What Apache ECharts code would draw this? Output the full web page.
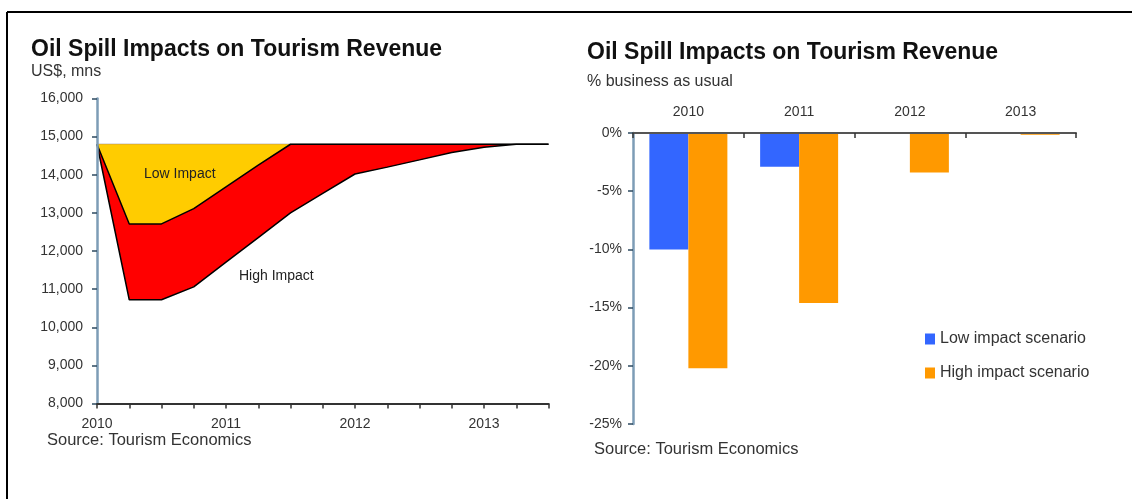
<!DOCTYPE html>
<html>
<head>
<meta charset="utf-8">
<script src="https://cdn.jsdelivr.net/npm/echarts@6/dist/echarts.min.js"></script>
<style>
  html, body { margin: 0; padding: 0; background: #fff; }
  #chart { width: 1132px; height: 499px; }
</style>
</head>
<body>
<div id="chart"></div>
<script>
// Quarterly tourism revenue, US$ mns
const quarters = [
  '2010 Q1', '2010 Q2', '2010 Q3', '2010 Q4',
  '2011 Q1', '2011 Q2', '2011 Q3', '2011 Q4',
  '2012 Q1', '2012 Q2', '2012 Q3', '2012 Q4',
  '2013 Q1', '2013 Q2', '2013 Q3'
];
const businessAsUsual = [14800, 14800, 14800, 14800, 14800, 14800, 14800, 14800, 14800, 14800, 14800, 14800, 14800, 14800, 14800];
const lowImpact  = [14800, 12710, 12710, 13110, 13680, 14250, 14800, 14800, 14800, 14800, 14800, 14800, 14800, 14800, 14800];
const highImpact = [14800, 10720, 10720, 11060, 11710, 12350, 13000, 13510, 14020, 14200, 14390, 14585, 14720, 14800, 14800];
const revenueMin = 8000, revenueMax = 16000, revenueStep = 1000;

// Annual impact, % of business as usual
const years = ['2010', '2011', '2012', '2013'];
const lowScenarioPct  = [-10.0, -2.9, 0, 0];
const highScenarioPct = [-20.2, -14.6, -3.4, -0.15];
const pctMin = -25, pctMax = 0, pctStep = 5;

const FONT = '"Liberation Sans", Arial, sans-serif';
const TXT = '#333';
const STEEL = '#7d9cb6';

const chart = echarts.init(document.getElementById('chart'), null, { renderer: 'canvas' });

function txt(x, y, text, size, opts) {
  return {
    type: 'text',
    x: x, y: y, z: 100,
    style: {
      text: text,
      font: (opts && opts.bold ? 'bold ' : '') + size + 'px ' + FONT,
      fill: (opts && opts.fill) || TXT,
      align: 'left',
      verticalAlign: 'middle'
    }
  };
}

chart.setOption({
  animation: false,
  textStyle: { fontFamily: FONT },
  grid: [
    { left: 97, top: 98.5, right: 583.5, bottom: 95.5, containLabel: false },
    { left: 633, top: 133, right: 56, bottom: 75, containLabel: false }
  ],
  xAxis: [
    {
      type: 'category', gridIndex: 0, data: quarters, boundaryGap: false,
      axisLine: { onZero: false, lineStyle: { color: '#333', width: 2 } },
      axisTick: { show: true, interval: 0, length: 5, lineStyle: { color: '#333', width: 1.5 } },
      axisLabel: {
        interval: 0, margin: 14, fontSize: 14, color: TXT, fontFamily: FONT,
        formatter: v => v.endsWith('Q1') ? v.slice(0, 4) : ''
      },
      splitLine: { show: false },
      z: 5
    },
    {
      type: 'category', gridIndex: 1, data: years, position: 'top',
      axisLine: { onZero: false, lineStyle: { color: '#555', width: 2 } },
      axisTick: { show: true, inside: true, length: 5, lineStyle: { color: '#333', width: 1.5 } },
      axisLabel: { margin: 14, fontSize: 14, color: TXT, fontFamily: FONT },
      splitLine: { show: false },
      z: 5
    }
  ],
  yAxis: [
    {
      type: 'value', gridIndex: 0, min: revenueMin, max: revenueMax, interval: revenueStep,
      axisLine: { show: true, lineStyle: { color: STEEL, width: 2.5 } },
      axisTick: { show: true, length: 5, lineStyle: { color: '#2d4a60', width: 1.5 } },
      axisLabel: {
        margin: 14, fontSize: 14, color: TXT, fontFamily: FONT,
        formatter: v => v.toLocaleString('en-US')
      },
      splitLine: { show: false },
      z: 5
    },
    {
      type: 'value', gridIndex: 1, min: pctMin, max: pctMax, interval: pctStep,
      axisLine: { show: true, lineStyle: { color: STEEL, width: 2.5 } },
      axisTick: { show: true, length: 5, lineStyle: { color: '#2d4a60', width: 1.5 } },
      axisLabel: { margin: 11, fontSize: 14, color: TXT, fontFamily: FONT, formatter: v => v + '%' },
      splitLine: { show: false },
      z: 5
    }
  ],
  legend: {
    data: ['Low impact scenario', 'High impact scenario'],
    orient: 'vertical', left: 925, top: 331, padding: 0,
    itemWidth: 10, itemHeight: 11, itemGap: 18, icon: 'rect',
    textStyle: { fontSize: 16, color: TXT, fontFamily: FONT, lineHeight: 16 },
    selectedMode: false
  },
  series: [
    {
      name: 'High Impact', type: 'line', xAxisIndex: 0, yAxisIndex: 0,
      data: highImpact, symbol: 'none', silent: true,
      lineStyle: { color: '#000', width: 1.5 },
      areaStyle: { color: '#ff0000', opacity: 1, origin: businessAsUsual[0] },
      z: 2
    },
    {
      name: 'Business as usual', type: 'line', xAxisIndex: 0, yAxisIndex: 0,
      data: businessAsUsual, symbol: 'none', silent: true,
      lineStyle: { color: '#8a8a8a', width: 1 },
      z: 3
    },
    {
      name: 'Low Impact', type: 'line', xAxisIndex: 0, yAxisIndex: 0,
      data: lowImpact, symbol: 'none', silent: true,
      lineStyle: { color: '#000', width: 1.5 },
      areaStyle: { color: '#ffcc00', opacity: 1, origin: businessAsUsual[0] },
      z: 4
    },
    {
      name: 'Low impact scenario', type: 'bar', xAxisIndex: 1, yAxisIndex: 1,
      data: lowScenarioPct, barWidth: 39, barGap: '0%',
      itemStyle: { color: '#3366ff' }, silent: true
    },
    {
      name: 'High impact scenario', type: 'bar', xAxisIndex: 1, yAxisIndex: 1,
      data: highScenarioPct, barWidth: 39, barGap: '0%',
      itemStyle: { color: '#ff9900' }, silent: true
    }
  ],
  graphic: [
    // frame
    { type: 'line', z: 100, shape: { x1: 7, y1: 12, x2: 1132, y2: 12 }, style: { stroke: '#000', lineWidth: 2 } },
    { type: 'line', z: 100, shape: { x1: 7, y1: 12, x2: 7, y2: 499 }, style: { stroke: '#000', lineWidth: 2 } },
    // left panel text
    txt(31, 50, 'Oil Spill Impacts on Tourism Revenue', 23, { bold: true, fill: '#111' }),
    txt(31, 72, 'US$, mns', 16),
    txt(144, 174, 'Low Impact', 14, { fill: '#222' }),
    txt(239, 276, 'High Impact', 14, { fill: '#222' }),
    txt(47, 440, 'Source: Tourism Economics', 16.5),
    // right panel text
    txt(587, 53, 'Oil Spill Impacts on Tourism Revenue', 23, { bold: true, fill: '#111' }),
    txt(587, 82, '% business as usual', 16),
    txt(594, 449, 'Source: Tourism Economics', 16.5)
  ]
});
</script>
</body>
</html>
